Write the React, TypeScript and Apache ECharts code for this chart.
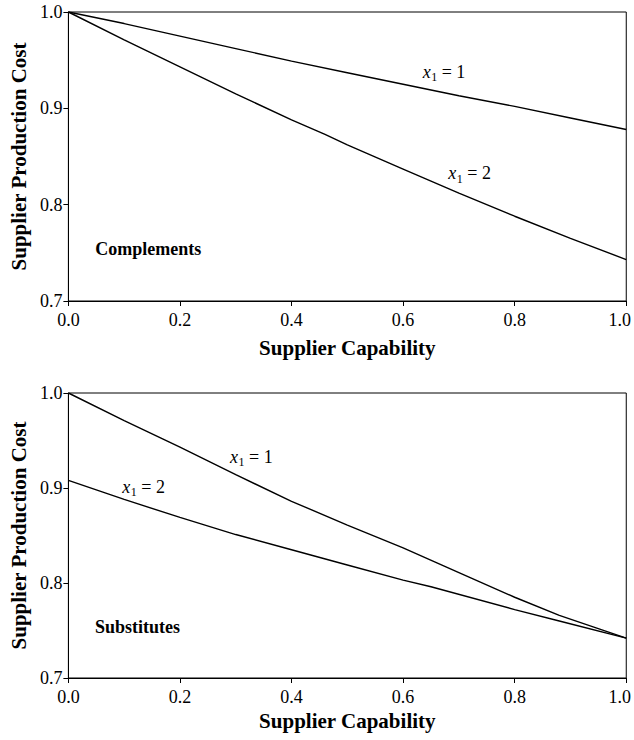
import React, { useEffect, useRef } from "react";
import * as echarts from "echarts";

// Supplier capability (x) and supplier production cost (y)
const compX1 = [0, 0.1, 0.2, 0.3, 0.4, 0.5, 0.6, 0.7, 0.8, 0.9, 1.0];
const compY1 = [1.0, 0.988, 0.975, 0.962, 0.949, 0.937, 0.925, 0.913, 0.902, 0.89, 0.878];
const compX2 = [0, 0.1, 0.2, 0.3, 0.4, 0.46, 0.5, 0.6, 0.7, 0.8, 0.9, 1.0];
const compY2 = [1.0, 0.971, 0.943, 0.915, 0.888, 0.873, 0.862, 0.837, 0.812, 0.788, 0.765, 0.743];

const substX1 = [0, 0.1, 0.2, 0.3, 0.4, 0.5, 0.6, 0.7, 0.8, 0.88, 1.0];
const substY1 = [1.0, 0.971, 0.943, 0.914, 0.886, 0.861, 0.837, 0.811, 0.785, 0.766, 0.742];
const substX2 = [0, 0.1, 0.2, 0.3, 0.4, 0.5, 0.6, 0.65, 0.8, 0.88, 1.0];
const substY2 = [0.908, 0.888, 0.869, 0.851, 0.835, 0.819, 0.803, 0.796, 0.772, 0.76, 0.742];

const xTitle = "Supplier Capability";
const yTitle = "Supplier Production Cost";
const panelTitles = ["Complements", "Substitutes"];

const FONT = '"Liberation Serif", "Times New Roman", Times, serif';

const pairs = (xs: number[], ys: number[]) => xs.map((x, i) => [x, ys[i]]);

function subLabel(x: number, baseline: number, value: string) {
  return {
    type: "group",
    children: [
      {
        type: "text",
        x,
        y: baseline - 6.1,
        style: { text: "x", font: `italic 18px ${FONT}`, fill: "#000", verticalAlign: "middle", align: "left" },
      },
      {
        type: "text",
        x: x + 8.5,
        y: baseline + 3.5 - 4.1,
        style: { text: "1", font: `12px ${FONT}`, fill: "#000", verticalAlign: "middle", align: "left" },
      },
      {
        type: "text",
        x: x + 14.5,
        y: baseline - 6.1,
        style: { text: " = " + value, font: `18px ${FONT}`, fill: "#000", verticalAlign: "middle", align: "left" },
      },
    ],
  };
}

function makeXAxis(gridIndex: number, nameGap: number) {
  return {
    type: "value",
    gridIndex,
    min: 0,
    max: 1,
    interval: 0.2,
    axisLine: { show: true, lineStyle: { color: "#000", width: 1 } },
    axisTick: { show: true, inside: false, length: 5, lineStyle: { color: "#000", width: 1 } },
    axisLabel: {
      color: "#000",
      fontFamily: FONT,
      fontSize: 18,
      margin: 10,
      formatter: (v: number) => (Math.abs(v - 1) < 1e-9 ? "{m|" + v.toFixed(1) + "}" : v.toFixed(1)),
      rich: { m: { fontFamily: FONT, fontSize: 18, color: "#000", padding: [0, 13, 0, 0] } },
    },
    splitLine: { show: false },
    name: xTitle,
    nameLocation: "middle",
    nameGap,
    nameTextStyle: { fontFamily: FONT, fontWeight: "bold", fontSize: 21, color: "#000" },
  };
}

function makeYAxis(gridIndex: number) {
  return {
    type: "value",
    gridIndex,
    min: 0.7,
    max: 1.0,
    interval: 0.1,
    axisLine: { show: true, lineStyle: { color: "#000", width: 1 } },
    axisTick: { show: true, inside: false, length: 5, lineStyle: { color: "#000", width: 1 } },
    axisLabel: {
      color: "#000",
      fontFamily: FONT,
      fontSize: 18,
      margin: 6,
      formatter: (v: number) => v.toFixed(1),
    },
    splitLine: { show: false },
    name: yTitle,
    nameLocation: "middle",
    nameGap: 38,
    nameTextStyle: { fontFamily: FONT, fontWeight: "bold", fontSize: 21, color: "#000" },
  };
}

const lineSeries = (idx: number, data: number[][]) => ({
  type: "line",
  xAxisIndex: idx,
  yAxisIndex: idx,
  data,
  symbol: "none",
  showSymbol: false,
  silent: true,
  lineStyle: { color: "#000", width: 1.4 },
});

export default function App() {
  const ref = useRef<HTMLDivElement>(null);
  useEffect(() => {
    if (!ref.current) return;
    const chart = echarts.init(ref.current, undefined, { renderer: "svg" });
    chart.setOption({
      animation: false,
      backgroundColor: "#fff",
      grid: [
        { left: 66, top: 12, width: 561, height: 289, show: true, borderColor: "#000", borderWidth: 1, backgroundColor: "transparent" },
        { left: 63, top: 393, width: 567, height: 285, show: true, borderColor: "#000", borderWidth: 1, backgroundColor: "transparent" },
      ],
      xAxis: [makeXAxis(0, 36), makeXAxis(1, 32)],
      yAxis: [makeYAxis(0), makeYAxis(1)],
      series: [
        lineSeries(0, pairs(compX1, compY1)),
        lineSeries(0, pairs(compX2, compY2)),
        lineSeries(1, pairs(substX1, substY1)),
        lineSeries(1, pairs(substX2, substY2)),
      ],
      graphic: [
        subLabel(422.7, 78, "1"),
        subLabel(448.3, 179.3, "2"),
        subLabel(230, 462.7, "1"),
        subLabel(122.3, 492.7, "2"),
        {
          type: "text",
          x: 95.3,
          y: 248.5,
          style: { text: panelTitles[0], font: `bold 18px ${FONT}`, fill: "#000", verticalAlign: "middle", align: "left" },
        },
        {
          type: "text",
          x: 95,
          y: 626.6,
          style: { text: panelTitles[1], font: `bold 18px ${FONT}`, fill: "#000", verticalAlign: "middle", align: "left" },
        },
      ],
    });
    return () => chart.dispose();
  }, []);
  return (
    <div
      ref={ref}
      style={{ position: "fixed", left: 0, top: 0, width: 634, height: 740, background: "#fff" }}
    />
  );
}
